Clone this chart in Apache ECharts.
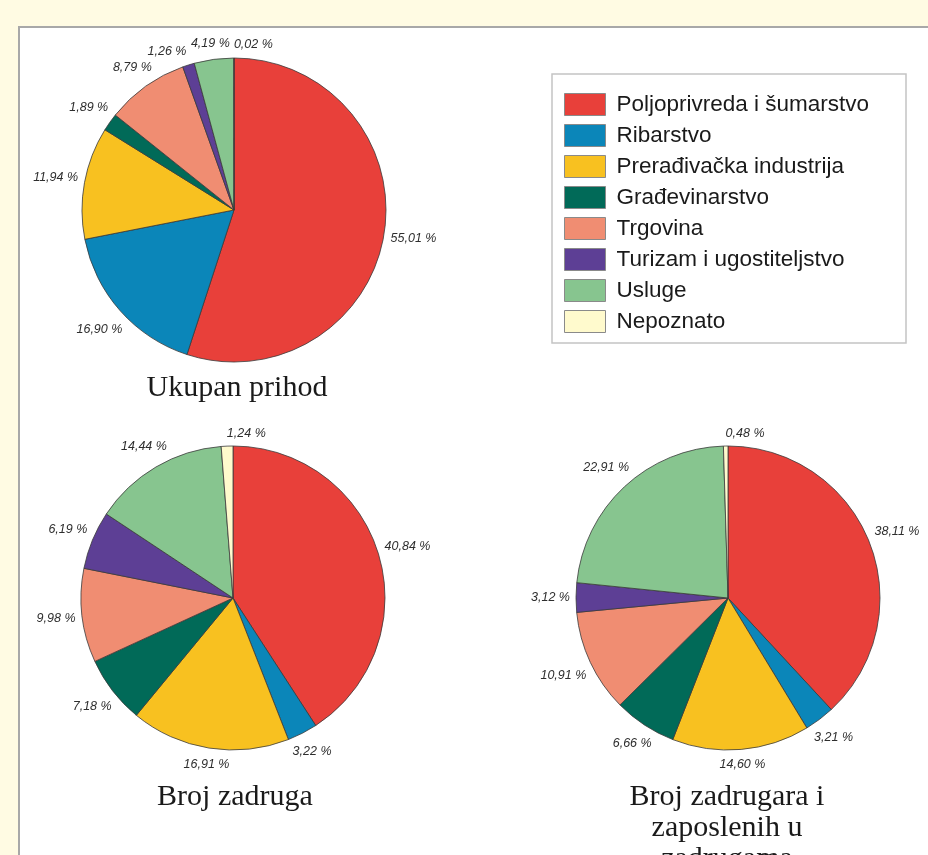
<!DOCTYPE html>
<html>
<head>
<meta charset="utf-8">
<script src="https://cdn.jsdelivr.net/npm/echarts@6/dist/echarts.min.js"></script>
<style>
  html, body { margin: 0; padding: 0; background: #fffbe3; }
  #chart { width: 928px; height: 855px; }
</style>
</head>
<body>
<div id="chart"></div>
<script>
// kategorije (legenda)
const categories = [
  "Poljoprivreda i šumarstvo",
  "Ribarstvo",
  "Prerađivačka industrija",
  "Građevinarstvo",
  "Trgovina",
  "Turizam i ugostiteljstvo",
  "Usluge",
  "Nepoznato"
]
const colors = ["#e8403a", "#0b86b9", "#f8c120", "#016a58", "#f08d72", "#5d3f95", "#87c58f", "#fffacd"]

// udjeli u %
const ukupanPrihod = [55.01, 16.90, 11.94, 1.89, 8.79, 1.26, 4.19, 0.02]
const brojZadruga = [40.84, 3.22, 16.91, 7.18, 9.98, 6.19, 14.44, 1.24]
const brojZadrugara = [38.11, 3.21, 14.60, 6.66, 10.91, 3.12, 22.91, 0.48]

const allValues = [ukupanPrihod, brojZadruga, brojZadrugara]
const centers = [[234, 210], [233, 598], [728, 598]]
const R = 152
const LABEL_SIZE = 12.5
const LABEL_H = 14

const chart = echarts.init(document.getElementById("chart"))

const fmtValue = (v) => v.toFixed(2).replace(".", ",") + " %"

// mjerenje širine teksta
const measureCtx = document.createElement("canvas").getContext("2d")
measureCtx.font = "italic " + LABEL_SIZE + "px 'Liberation Sans'"
const textWidth = (t) => measureCtx.measureText(t).width

// srednji kut isječka (radijani, od vrha u smjeru kazaljke)
function midAngle(values, idx) {
  const total = values.reduce((a, b) => a + b, 0)
  let before = 0
  for (let i = 0; i < idx; i++) before += values[i]
  return ((before + values[idx] / 2) / total) * Math.PI * 2
}

// okvir oznake za zadani kut
function labelBox(cx, cy, a, w) {
  const sin = Math.sin(a)
  const cos = Math.cos(a)
  const gap = 6
  if (Math.abs(sin) < 0.1 && cos > 0) {
    // mali isječci na vrhu: tekst desno od točke
    const x = cx + (R + gap) * sin
    const y = cy - (R + gap + LABEL_H / 2) * cos
    return { x, y, align: "left", x0: x, x1: x + w, y0: y - LABEL_H / 2, y1: y + LABEL_H / 2 }
  }
  const dist = R + gap + Math.abs(sin) * w / 2 + Math.abs(cos) * LABEL_H / 2
  const x = cx + dist * sin
  const y = cy - dist * cos
  return { x, y, align: "center", x0: x - w / 2, x1: x + w / 2, y0: y - LABEL_H / 2, y1: y + LABEL_H / 2 }
}

const overlaps = (a, b) => a.x0 < b.x1 + 4 && b.x0 < a.x1 + 4 && a.y0 < b.y1 && b.y0 < a.y1

// raspored oznaka po seriji, s pomicanjem preklopljenih suprotno od kazaljke
const labelBoxes = allValues.map((values, s) => {
  const [cx, cy] = centers[s]
  const placed = []
  const boxes = []
  for (let i = values.length - 1; i >= 0; i--) {
    const w = textWidth(fmtValue(values[i]))
    let a = midAngle(values, i)
    let box = labelBox(cx, cy, a, w)
    let steps = 0
    while (placed.some((p) => overlaps(p, box)) && steps < 80) {
      a -= Math.PI / 360
      box = labelBox(cx, cy, a, w)
      steps++
    }
    placed.push(box)
    boxes[i] = box
  }
  return boxes
})

function placeLabel(params) {
  const b = labelBoxes[params.seriesIndex][params.dataIndex]
  return { x: b.x, y: b.y, align: b.align, verticalAlign: "middle" }
}

function pieSeries(values, center) {
  return {
    type: "pie",
    radius: R,
    center: center,
    startAngle: 90,
    clockwise: true,
    animation: false,
    avoidLabelOverlap: false,
    data: categories.map((name, i) => ({ name, value: values[i] })),
    itemStyle: { borderColor: "#3a3a3a", borderWidth: 0.8 },
    label: {
      show: true,
      position: "outside",
      formatter: (p) => fmtValue(p.value),
      overflow: "none",
      fontFamily: "Liberation Sans",
      fontStyle: "italic",
      fontSize: LABEL_SIZE,
      color: "#2e2e2e"
    },
    labelLine: { show: false },
    labelLayout: placeLabel,
    emphasis: { disabled: true }
  }
}

const titleStyle = {
  fontFamily: "Liberation Serif",
  fontSize: 30,
  fill: "#1a1a1a",
  textAlign: "center",
  textVerticalAlign: "middle"
}

chart.setOption({
  color: colors,
  animation: false,
  graphic: [
    {
      type: "rect",
      z: -10,
      shape: { x: 19, y: 27, width: 920, height: 840 },
      style: { fill: "#ffffff", stroke: "#a8a8a8", lineWidth: 2 }
    },
    {
      type: "rect",
      z: -5,
      shape: { x: 552, y: 74, width: 354, height: 269 },
      style: { fill: "#ffffff", stroke: "#c4c4c4", lineWidth: 1.5 }
    },
    { type: "text", x: 237, y: 388, style: Object.assign({ text: "Ukupan prihod" }, titleStyle) },
    { type: "text", x: 235, y: 797, style: Object.assign({ text: "Broj zadruga" }, titleStyle) },
    {
      type: "text", x: 727, y: 828,
      style: Object.assign({ text: "Broj zadrugara i\nzaposlenih u\nzadrugama", lineHeight: 31 }, titleStyle)
    }
  ],
  legend: {
    orient: "vertical",
    left: 564,
    top: 93,
    padding: 0,
    itemWidth: 41,
    itemHeight: 22,
    itemGap: 8,
    icon: "rect",
    selectedMode: false,
    data: categories,
    itemStyle: { borderColor: "#8a8a8a", borderWidth: 1 },
    textStyle: { fontFamily: "Liberation Sans", fontSize: 22.5, color: "#1a1a1a", padding: [0, 0, 0, 6] }
  },
  series: allValues.map((v, i) => pieSeries(v, centers[i]))
})
</script>
</body>
</html>
